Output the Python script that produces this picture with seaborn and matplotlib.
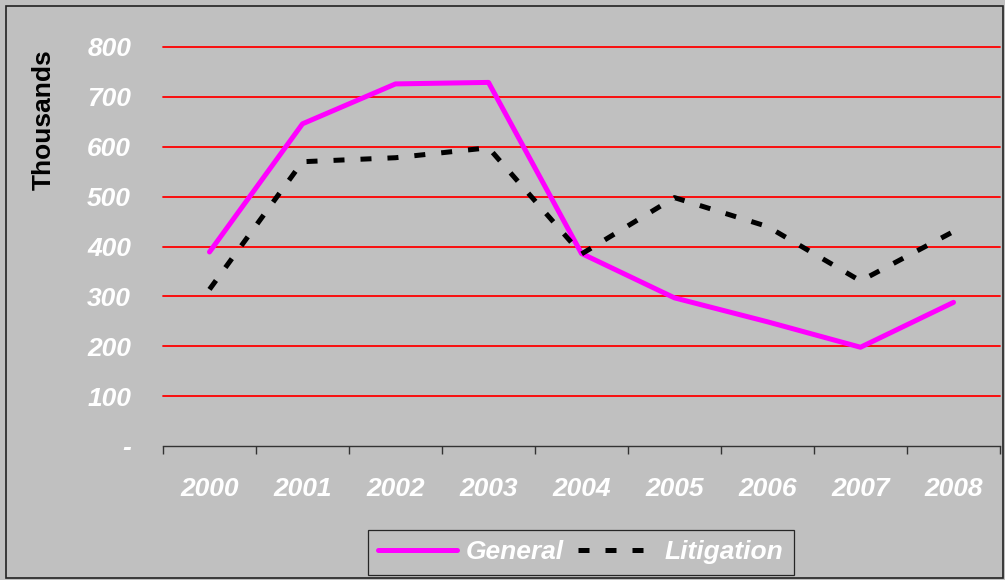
import matplotlib
matplotlib.use("Agg")
import matplotlib.pyplot as plt
import seaborn as sns
import pandas as pd
from matplotlib.patches import Rectangle
from matplotlib.ticker import FixedLocator, FuncFormatter

years = ["2000", "2001", "2002", "2003", "2004", "2005", "2006", "2007", "2008"]
general = [389, 646, 726, 729, 386, 297, 249, 198, 288]
litigation = [314, 570, 578, 598, 385, 498, 440, 331, 430]
yticks = [0, 100, 200, 300, 400, 500, 600, 700, 800]

sns.set_theme(style="white")
plt.rcParams["font.family"] = ["Liberation Sans", "DejaVu Sans"]

df = pd.DataFrame({
    "Year": years * 2,
    "Value": general + litigation,
    "Series": ["General"] * len(years) + ["Litigation"] * len(years),
})

bg = "#C0C0C0"
FS = 19
fig = plt.figure(figsize=(10.05, 5.8), dpi=100, facecolor=bg)
ax = fig.add_axes([163 / 1005, 1 - 446 / 580, (1000 - 163) / 1005, (446 - 47) / 580])
ax.set_facecolor(bg)

for y in yticks[1:]:
    ax.axhline(y, color="#FF0000", lw=1.3, zorder=1, clip_on=False)

sns.lineplot(data=df, x="Year", y="Value", hue="Series", style="Series",
             palette={"General": "#FF00FF", "Litigation": "#000000"},
             dashes={"General": "", "Litigation": (2.2, 3.2)},
             linewidth=3.6, ax=ax, legend=True, zorder=3, sort=False)
for ln in ax.get_lines():
    ln.set_solid_capstyle("round")
    ln.set_clip_on(False)

ax.set_xlim(-0.5, len(years) - 0.5)
ax.set_ylim(0, 800)
for s in ["left", "right", "top"]:
    ax.spines[s].set_visible(False)
ax.spines["bottom"].set_color("#333333")
ax.spines["bottom"].set_linewidth(1.0)

ax.set_xticks(range(len(years)))
ax.set_xticklabels(years)
ax.xaxis.set_minor_locator(FixedLocator([i - 0.5 for i in range(len(years) + 1)]))
ax.tick_params(axis="x", which="major", length=0, pad=22, labelsize=FS, labelcolor="white")
ax.tick_params(axis="x", which="minor", length=6, width=1, color="#333333", direction="out", bottom=True)
ax.set_yticks(yticks)
ax.yaxis.set_major_formatter(FuncFormatter(lambda v, p: "-" if v == 0 else f"{int(v)}"))
ax.tick_params(axis="y", length=0, pad=23, labelsize=FS, labelcolor="white")
for lab in ax.get_xticklabels() + ax.get_yticklabels():
    lab.set_fontweight("bold")
    lab.set_fontstyle("italic")
    lab.set_fontsize(FS)

ax.set_xlabel("")
ax.set_ylabel("Thousands", fontsize=FS, fontweight="bold", color="black")
ax.yaxis.set_label_coords((56 - 163) / 837, (446 - 120) / 399)

handles, labels = ax.get_legend_handles_labels()
if ax.get_legend():
    ax.get_legend().remove()
leg = fig.legend(handles, labels, loc="lower center", ncol=2,
                 bbox_to_anchor=(581 / 1005, 5 / 580), frameon=True,
                 fancybox=False, facecolor=bg, edgecolor="black",
                 handlelength=3.0, columnspacing=0.55, handletextpad=0.3,
                 borderpad=0.4, borderaxespad=0.0,
                 prop={"size": FS, "weight": "bold", "style": "italic"})
leg.get_frame().set_linewidth(0.9)
for t in leg.get_texts():
    t.set_color("white")

fig.patches.append(Rectangle((6 / 1005, 2 / 580), 997 / 1005, 572 / 580,
                             transform=fig.transFigure, fill=False,
                             edgecolor="#222222", lw=1.2))

fig.savefig("out.png", dpi=100, facecolor=bg)
